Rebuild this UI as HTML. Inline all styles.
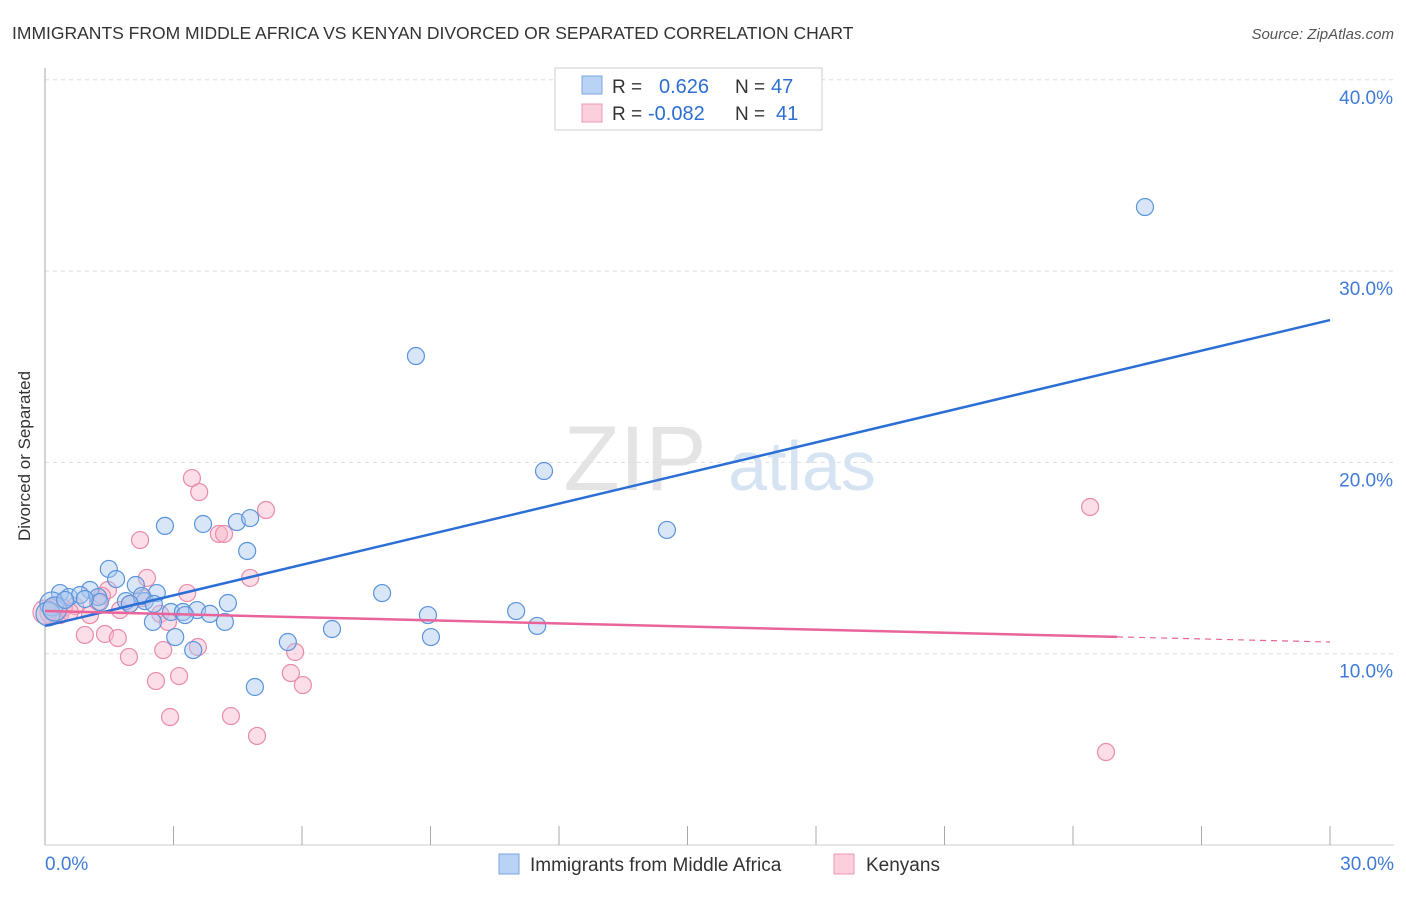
<!DOCTYPE html>
<html><head><meta charset="utf-8"><style>
body{margin:0;background:#fff;font-family:"Liberation Sans",sans-serif;}
svg text{font-family:"Liberation Sans",sans-serif;}
</style></head><body>
<svg id="chart" width="1406" height="892">
<text x="12" y="39" font-size="17.5" fill="#333">IMMIGRANTS FROM MIDDLE AFRICA VS KENYAN DIVORCED OR SEPARATED CORRELATION CHART</text>
<text x="1394" y="39" font-size="15" fill="#555" text-anchor="end" font-style="italic">Source: ZipAtlas.com</text>
<text x="30" y="456" font-size="17" fill="#333" text-anchor="middle" transform="rotate(-90 30 456)">Divorced or Separated</text>
<g>
<text x="635" y="490" font-size="92" fill="#e4e4e4" font-family="Liberation Serif" text-anchor="middle">ZIP</text>
<text x="802" y="490" font-size="70" fill="#d6e3f3" text-anchor="middle">atlas</text>
</g>
<g id="grid"></g><g id="axes"></g><g id="pts"></g><g id="lines"></g>
<g>
<rect x="555" y="68" width="267" height="62" fill="#fff" stroke="#ccc"/>
<rect x="582" y="76" width="20" height="18" fill="#b8d3f3" stroke="#7aa6e0"/>
<rect x="582" y="104" width="20" height="18" fill="#fccfdd" stroke="#eb9ab4"/>
<text x="612" y="93" font-size="19" fill="#333">R =</text><text x="659" y="93" font-size="20" fill="#2d6fd1">0.626</text>
<text x="735" y="93" font-size="19" fill="#333">N =</text><text x="771" y="93" font-size="20" fill="#2d6fd1">47</text>
<text x="612" y="120" font-size="19" fill="#333">R =</text><text x="648" y="120" font-size="20" fill="#2d6fd1">-0.082</text>
<text x="735" y="120" font-size="19" fill="#333">N =</text><text x="776" y="120" font-size="20" fill="#2d6fd1">41</text>
</g>
<g>
<rect x="499" y="854" width="20" height="20" fill="#b8d3f3" stroke="#7aa6e0"/>
<text x="530" y="871" font-size="19" fill="#333">Immigrants from Middle Africa</text>
<rect x="834" y="854" width="20" height="20" fill="#fccfdd" stroke="#eb9ab4"/>
<text x="866" y="871" font-size="19" fill="#333">Kenyans</text>
</g>
</svg>
<script>
const blueX=[25.68,8.66,11.65,14.52,2.80,3.69,4.48,4.79,4.72,1.49,1.66,2.12,2.61,1.05,0.35,0.56,0.82,1.24,1.89,2.33,2.26,2.54,1.28,1.98,0.16,7.87,4.27,2.94,3.22,3.55,3.85,3.27,4.20,2.52,8.94,11.00,11.49,6.70,3.04,9.01,5.67,3.46,4.90,0.07,0.23,0.47,0.93];
const blueY=[33.35,25.56,19.55,16.47,16.68,16.78,16.88,17.09,15.37,14.43,13.90,13.59,13.17,13.33,13.17,12.96,13.07,12.96,12.75,12.75,13.02,12.60,12.70,12.60,12.60,13.17,12.65,12.18,12.18,12.28,12.08,12.02,11.66,11.66,12.02,12.23,11.45,11.29,10.87,10.87,10.61,10.19,8.26,12.08,12.34,12.81,12.86];
const pinkX=[24.40,3.43,3.60,5.16,4.06,4.18,2.22,2.38,4.79,3.32,1.47,1.24,1.75,1.33,1.98,2.29,2.69,2.87,0.16,0.23,0.35,0.00,0.70,1.05,0.93,1.40,1.70,0.44,5.84,2.76,3.57,1.96,2.59,3.13,5.74,6.02,2.92,4.34,4.95,24.77,0.58];
const pinkY=[17.67,19.18,18.45,17.51,16.26,16.26,15.94,13.96,13.96,13.17,13.33,12.70,12.28,13.02,12.60,12.91,12.08,11.66,12.18,12.28,12.02,12.18,12.49,12.02,10.98,11.03,10.82,12.39,10.09,10.19,10.35,9.83,8.57,8.83,8.99,8.36,6.69,6.74,5.70,4.86,12.18];
const yTicks=[10,20,30,40];
const yTickLabels=["10.0%","20.0%","30.0%","40.0%"];
const blueFit=[11.45,27.44];
const pinkFit=[12.23,10.61];
const pinkSolidEnd=25.03;
const NS="http://www.w3.org/2000/svg";
const X=v=>45+v*(1285/30), Y=v=>845-v*19.13;
function mk(t,a,p){const e=document.createElementNS(NS,t);for(const k in a)e.setAttribute(k,a[k]);document.getElementById(p).appendChild(e);return e;}
yTicks.forEach((t,i)=>{
 const l=mk('line',{x1:45,x2:1394,y1:Y(t),y2:Y(t),stroke:'#ddd','stroke-dasharray':'4 4'},'grid');
 
 
 const tx=mk('text',{x:1393,y:Y(t)+24,'font-size':19,fill:'#3f7bd8','text-anchor':'end'},'grid');tx.textContent=yTickLabels[i];
 
 
});
mk('line',{x1:45,x2:45,y1:68,y2:845,stroke:'#aaa'},'axes');
mk('line',{x1:45,x2:1394,y1:845,y2:845,stroke:'#ccc'},'axes');
for(let i=0;i<=10;i++){const x=X(i*3);mk('line',{x1:x,x2:x,y1:826,y2:845,stroke:'#aaa'},'axes');}
let t0=mk('text',{x:45,y:870,'font-size':19,fill:'#3f7bd8'},'axes');t0.textContent='0.0%';


let t1=mk('text',{x:1394,y:870,'font-size':19,fill:'#3f7bd8','text-anchor':'end'},'axes');t1.textContent='30.0%';


function pts(xs,ys,fill,stroke,name){xs.forEach((x,i)=>{const big=x<0.3;const c=mk('circle',{cx:X(x),cy:Y(ys[i]),r:big?12:8.5,fill:fill,'fill-opacity':0.45,stroke:stroke,'stroke-width':1.2},'pts');
 
 });}
pts(pinkX,pinkY,'#f7b5ca','#e98bab','kenyan-point');
pts(blueX,blueY,'#a9c8f0','#5b94dc','immigrant-point');
let b=mk('line',{x1:X(0),y1:Y(blueFit[0]),x2:X(30),y2:Y(blueFit[1]),stroke:'#2b6fd6','stroke-width':2.5},'lines');


const py=x=>pinkFit[0]+(pinkFit[1]-pinkFit[0])*x/30;
let p=mk('line',{x1:X(0),y1:Y(py(0)),x2:X(pinkSolidEnd),y2:Y(py(pinkSolidEnd)),stroke:'#e8649a','stroke-width':2.5},'lines');


let pd=mk('line',{x1:X(pinkSolidEnd),y1:Y(py(pinkSolidEnd)),x2:X(30),y2:Y(py(30)),stroke:'#e8649a','stroke-width':1.2,'stroke-dasharray':'6 5'},'lines');


</script>
</body></html>
